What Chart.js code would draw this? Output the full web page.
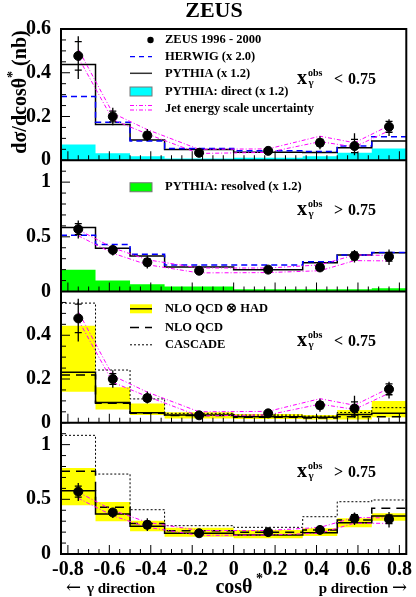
<!DOCTYPE html>
<html>
<head>
<meta charset="utf-8">
<script src="https://cdn.jsdelivr.net/npm/chart.js@4.4.1/dist/chart.umd.min.js"></script>
<style>
  html, body { margin: 0; padding: 0; background: #fff; }
  #wrap { width: 416px; height: 597px; }
</style>
</head>
<body>
<div id="wrap"><canvas id="zeus" width="416" height="597"></canvas></div>
<script>
// cos(theta*) bins: edges for the histograms, centres for the data points
const binEdges = [-0.8333, -0.6667, -0.5, -0.3333, 0, 0.3333, 0.5, 0.6667, 0.8333];
const binCentres = [-0.75, -0.5833, -0.4167, -0.1667, 0.1667, 0.4167, 0.5833, 0.75];

// ZEUS 1996-2000, x_gamma^obs < 0.75 (nb)
const dataLow = [0.477, 0.200, 0.113, 0.034, 0.043, 0.080, 0.065, 0.153];
const statLow = [0.065, 0.025, 0.015, 0.005, 0.006, 0.015, 0.030, 0.025];
const errUpLow = [0.090, 0.040, 0.030, 0.008, 0.010, 0.030, 0.058, 0.035];
const errDnLow = [0.105, 0.040, 0.025, 0.008, 0.010, 0.030, 0.042, 0.042];

// ZEUS 1996-2000, x_gamma^obs > 0.75 (nb)
const dataHigh = [0.570, 0.380, 0.267, 0.190, 0.200, 0.220, 0.325, 0.318];
const statHigh = [0.050, 0.025, 0.030, 0.010, 0.010, 0.020, 0.035, 0.040];
const errUpHigh = [0.080, 0.040, 0.060, 0.015, 0.015, 0.038, 0.055, 0.065];
const errDnHigh = [0.085, 0.050, 0.057, 0.015, 0.015, 0.040, 0.060, 0.075];

// jet energy scale uncertainty
const jesUpLow = [0.508, 0.215, 0.140, 0.050, 0.052, 0.110, 0.080, 0.158];
const jesDnLow = [0.470, 0.185, 0.120, 0.031, 0.036, 0.085, 0.061, 0.135];
const jesUpHigh = [0.565, 0.400, 0.290, 0.215, 0.215, 0.243, 0.334, 0.330];
const jesDnHigh = [0.510, 0.350, 0.245, 0.170, 0.173, 0.190, 0.282, 0.280];

// MC, x_gamma^obs < 0.75
const herwigLow = [0.292, 0.174, 0.088, 0.054, 0.043, 0.040, 0.065, 0.108];
const pythiaLow = [0.438, 0.163, 0.093, 0.049, 0.037, 0.036, 0.057, 0.088];
const directLow = [0.072, 0.032, 0.018, 0.008, 0.012, 0.018, 0.034, 0.054];

// MC, x_gamma^obs > 0.75
const herwigHigh = [0.515, 0.430, 0.340, 0.243, 0.243, 0.273, 0.334, 0.357];
const pythiaHigh = [0.585, 0.395, 0.325, 0.225, 0.200, 0.262, 0.334, 0.355];
const resolvedHigh = [0.200, 0.100, 0.067, 0.045, 0.020, 0.020, 0.020, 0.030];

// NLO and CASCADE, x_gamma^obs < 0.75
const nloHadLow = [0.231, 0.093, 0.046, 0.035, 0.027, 0.025, 0.038, 0.043];
const nloHadLowUp = [0.443, 0.162, 0.088, 0.048, 0.040, 0.035, 0.058, 0.099];
const nloHadLowDn = [0.142, 0.061, 0.035, 0.020, 0.017, 0.015, 0.015, 0.025];
const nloLow = [0.218, 0.089, 0.044, 0.033, 0.025, 0.022, 0.028, 0.028];
const cascadeLow = [0.547, 0.241, 0.109, 0.043, 0.035, 0.030, 0.047, 0.069];

// NLO and CASCADE, x_gamma^obs > 0.75
const nloHadHigh = [0.579, 0.366, 0.253, 0.189, 0.174, 0.195, 0.286, 0.347];
const nloHadHighUp = [0.786, 0.475, 0.304, 0.240, 0.219, 0.235, 0.326, 0.372];
const nloHadHighDn = [0.445, 0.299, 0.207, 0.158, 0.143, 0.165, 0.244, 0.304];
const nloHigh = [0.756, 0.427, 0.280, 0.213, 0.200, 0.220, 0.310, 0.418];
const cascadeHigh = [1.085, 0.731, 0.405, 0.259, 0.244, 0.341, 0.478, 0.494];

const xTicks = [-0.8, -0.6, -0.4, -0.2, 0, 0.2, 0.4, 0.6, 0.8];

const SERIF = '"Liberation Serif", "Times New Roman", serif';
const MAGENTA = '#ff00ff';
const JES_DASH = [4, 2, 1, 2];

const edgeSeries = vals => binEdges.map((x, i) => ({ x, y: vals[Math.min(i, vals.length - 1)] }));
const pointSeries = vals => binCentres.map((x, i) => ({ x, y: vals[i] }));

function histo(axis, vals, color, dash, width, extra) {
  return Object.assign({
    yAxisID: axis, data: edgeSeries(vals), stepped: 'before',
    borderColor: color, borderDash: dash, borderWidth: width,
    pointRadius: 0, fill: false, order: 5
  }, extra || {});
}
function filledHisto(axis, vals, color) {
  return histo(axis, vals, 'rgba(0,0,0,0)', [], 0, { fill: 'origin', backgroundColor: color, order: 30 });
}
function jes(axis, vals) {
  return { yAxisID: axis, data: pointSeries(vals), borderColor: MAGENTA, borderDash: JES_DASH,
    borderWidth: 1, pointRadius: 0, fill: false, tension: 0, order: 3 };
}
function points(axis, vals, stat, up, dn) {
  return { yAxisID: axis, data: pointSeries(vals), showLine: false, pointRadius: 4.5,
    pointBackgroundColor: '#000', pointBorderColor: '#000', order: 1,
    errStat: stat, errUp: up, errDn: dn };
}

const datasets = [
  // panel 1
  filledHisto('y1', directLow, '#00ffff'),
  histo('y1', herwigLow, '#0000ff', [6, 4], 1.5),
  histo('y1', pythiaLow, '#000', [], 1.5),
  jes('y1', jesUpLow), jes('y1', jesDnLow),
  points('y1', dataLow, statLow, errUpLow, errDnLow),
  // panel 2
  filledHisto('y2', resolvedHigh, '#00ff00'),
  histo('y2', herwigHigh, '#0000ff', [6, 4], 1.5),
  histo('y2', pythiaHigh, '#000', [], 1.5),
  jes('y2', jesUpHigh), jes('y2', jesDnHigh),
  points('y2', dataHigh, statHigh, errUpHigh, errDnHigh),
  // panel 3
  histo('y3', nloHadLowUp, 'rgba(0,0,0,0)', [], 0, { fill: '+1', backgroundColor: '#ffff00', order: 30 }),
  histo('y3', nloHadLowDn, 'rgba(0,0,0,0)', [], 0, { order: 30 }),
  histo('y3', nloLow, '#000', [9, 6], 1.5),
  histo('y3', cascadeLow, '#000', [2, 2], 1),
  histo('y3', nloHadLow, '#000', [], 1.5),
  jes('y3', jesUpLow), jes('y3', jesDnLow),
  points('y3', dataLow, statLow, errUpLow, errDnLow),
  // panel 4
  histo('y4', nloHadHighUp, 'rgba(0,0,0,0)', [], 0, { fill: '+1', backgroundColor: '#ffff00', order: 30 }),
  histo('y4', nloHadHighDn, 'rgba(0,0,0,0)', [], 0, { order: 30 }),
  histo('y4', nloHigh, '#000', [9, 6], 1.5),
  histo('y4', cascadeHigh, '#000', [2, 2], 1),
  histo('y4', nloHadHigh, '#000', [], 1.5),
  jes('y4', jesUpHigh), jes('y4', jesDnHigh),
  points('y4', dataHigh, statHigh, errUpHigh, errDnHigh)
];

function yScale(max, step, hideTop) {
  return {
    type: 'linear', position: 'left', stack: 'panels', stackWeight: 1,
    min: 0, max: max,
    minorStep: step / (step === 0.2 ? 4 : 5), majorStep: step,
    ticks: {
      stepSize: step, includeBounds: false, autoSkip: false, padding: 10, color: '#000',
      font: { family: SERIF, size: 20, weight: 'bold' },
      callback: v => (hideTop && v > max - 0.01) ? '' : String(Math.round(v * 10) / 10)
    },
    grid: { display: false, drawTicks: false },
    border: { display: false },
    afterFit: s => { s.width = 61; }
  };
}

// frame, inside tick marks, error bars, legends and labels
const zeusDecor = {
  id: 'zeusDecor',
  afterDatasetsDraw(chart) {
    const ctx = chart.ctx;
    const xs = chart.scales.x;
    ctx.save();
    ctx.strokeStyle = '#000';
    ctx.lineWidth = 1.3;
    chart.data.datasets.forEach(ds => {
      if (!ds.errUp) return;
      const ys = chart.scales[ds.yAxisID];
      binCentres.forEach((c, j) => {
        const px = xs.getPixelForValue(c);
        const v = ds.data[j].y;
        ctx.beginPath();
        ctx.moveTo(px, ys.getPixelForValue(v + ds.errUp[j]));
        ctx.lineTo(px, ys.getPixelForValue(v - ds.errDn[j]));
        [v + ds.errStat[j], v - ds.errStat[j]].forEach(t => {
          const py = ys.getPixelForValue(t);
          ctx.moveTo(px - 3.5, py);
          ctx.lineTo(px + 3.5, py);
        });
        ctx.stroke();
      });
    });
    ctx.restore();
  },
  afterDraw(chart) {
    const ctx = chart.ctx;
    const area = chart.chartArea;
    const xs = chart.scales.x;
    const panels = ['y1', 'y2', 'y3', 'y4'].map(id => chart.scales[id]);
    ctx.save();
    ctx.strokeStyle = '#000';
    ctx.fillStyle = '#000';

    // tick marks pointing into each panel
    ctx.lineWidth = 1;
    ctx.beginPath();
    panels.forEach(ys => {
      const minor = ys.options.minorStep, major = ys.options.majorStep;
      for (let k = 0; k * minor <= ys.max + 1e-6; k++) {
        const v = k * minor;
        const isMajor = Math.abs(v / major - Math.round(v / major)) < 1e-6;
        const py = ys.getPixelForValue(v);
        ctx.moveTo(area.left, py);
        ctx.lineTo(area.left + (isMajor ? 9 : 5), py);
      }
      for (let k = -16; k <= 16; k++) {
        const px = xs.getPixelForValue(k * 0.05);
        ctx.moveTo(px, ys.bottom);
        ctx.lineTo(px, ys.bottom - (k % 4 === 0 ? 9 : 5));
      }
    });
    ctx.stroke();

    // frame and panel separators
    ctx.lineWidth = 2;
    ctx.strokeRect(area.left, area.top, area.right - area.left, area.bottom - area.top);
    ctx.beginPath();
    panels.slice(0, 3).forEach(ys => {
      ctx.moveTo(area.left, ys.bottom);
      ctx.lineTo(area.right, ys.bottom);
    });
    ctx.stroke();

    // title
    ctx.textBaseline = 'alphabetic';
    ctx.textAlign = 'center';
    ctx.font = 'bold 22px ' + SERIF;
    ctx.fillText('ZEUS', 214, 17);

    // x_gamma^obs labels
    const xg = (ys, rel) => {
      const b = ys.top + 54.5;
      ctx.textAlign = 'left';
      ctx.font = 'bold 20px ' + SERIF;
      ctx.fillText('x', 297, b);
      ctx.font = 'bold 10px ' + SERIF;
      ctx.fillText('obs', 308, b - 8);
      ctx.font = 'bold 11px ' + SERIF;
      ctx.fillText('\u03b3', 308.5, b + 2);
      ctx.font = 'bold 16px ' + SERIF;
      ctx.fillText(rel, 334, b);
      ctx.fillText('0.75', 348, b);
    };
    xg(panels[0], '<');
    xg(panels[1], '>');
    xg(panels[2], '<');
    xg(panels[3], '>');

    // legends
    const lx0 = 130, lx1 = 152, tx = 165;
    const label = (txt, y) => {
      ctx.fillStyle = '#000';
      ctx.textAlign = 'left';
      ctx.textBaseline = 'middle';
      ctx.font = 'bold 12.5px ' + SERIF;
      ctx.fillText(txt, tx, y);
    };
    const sampleLine = (y, color, dash, w) => {
      ctx.save();
      ctx.strokeStyle = color;
      ctx.setLineDash(dash);
      ctx.lineWidth = w;
      ctx.beginPath();
      ctx.moveTo(lx0, y);
      ctx.lineTo(lx1, y);
      ctx.stroke();
      ctx.restore();
    };
    const sampleBox = (y, color, edge) => {
      ctx.fillStyle = color;
      ctx.fillRect(lx0, y - 4.5, lx1 - lx0, 9);
      if (edge) {
        ctx.strokeStyle = '#777';
        ctx.lineWidth = 1;
        ctx.strokeRect(lx0, y - 4.5, lx1 - lx0, 9);
      }
    };
    let t = panels[0].top;
    ctx.beginPath();
    ctx.arc(150.5, t + 11, 3.2, 0, Math.PI * 2);
    ctx.fill();
    label('ZEUS 1996 - 2000', t + 11);
    sampleLine(t + 27.7, '#0000ff', [5, 4], 1.3);
    label('HERWIG (x 2.0)', t + 27.7);
    sampleLine(t + 44.3, '#333', [], 1.5);
    label('PYTHIA (x 1.2)', t + 44.3);
    sampleBox(t + 62.5, '#00ffff', true);
    label('PYTHIA: direct (x 1.2)', t + 62.5);
    sampleLine(t + 76.5, MAGENTA, JES_DASH, 1);
    sampleLine(t + 81, MAGENTA, JES_DASH, 1);
    label('Jet energy scale uncertainty', t + 79.3);

    t = panels[1].top;
    sampleBox(t + 27, '#00ff00', true);
    label('PYTHIA: resolved (x 1.2)', t + 27);

    t = panels[2].top;
    sampleBox(t + 17.3, '#ffff00', false);
    sampleLine(t + 17.3, '#000', [], 1.5);
    label('NLO QCD \u2297 HAD', t + 17.3);
    sampleLine(t + 36, '#000', [9, 6], 1.5);
    label('NLO QCD', t + 36);
    sampleLine(t + 53.3, '#000', [2, 2], 1);
    label('CASCADE', t + 53.3);

    // axis titles
    ctx.fillStyle = '#000';
    ctx.textBaseline = 'alphabetic';
    ctx.textAlign = 'left';
    ctx.font = 'bold 20px ' + SERIF;
    const w1 = ctx.measureText('d\u03c3/dcos\u03b8').width;
    const w3 = ctx.measureText(' (nb)').width;
    ctx.font = 'bold 14px ' + SERIF;
    const w2 = ctx.measureText('*').width;
    ctx.save();
    ctx.translate(26, 92);
    ctx.rotate(-Math.PI / 2);
    const sx = -(w1 + w2 + w3) / 2;
    ctx.font = 'bold 20px ' + SERIF;
    ctx.fillText('d\u03c3/dcos\u03b8', sx, 0);
    ctx.font = 'bold 14px ' + SERIF;
    ctx.fillText('*', sx + w1, -9);
    ctx.font = 'bold 20px ' + SERIF;
    ctx.fillText(' (nb)', sx + w1 + w2, 0);
    ctx.restore();

    ctx.font = 'bold 20px ' + SERIF;
    ctx.textAlign = 'center';
    ctx.fillText('cos\u03b8', 234, 593);
    ctx.font = 'bold 14px ' + SERIF;
    ctx.textAlign = 'left';
    ctx.fillText('*', 256, 583);

    // direction hints, with wide arrows
    ctx.font = '18px "DejaVu Serif"';
    ctx.fillText('\u2190', 66, 593);
    ctx.textAlign = 'right';
    ctx.fillText('\u2192', 407, 593);
    ctx.font = 'bold 15px ' + SERIF;
    ctx.textAlign = 'left';
    ctx.fillText('\u03b3 direction', 87, 593);
    ctx.textAlign = 'right';
    ctx.fillText('p direction', 388, 593);
    ctx.restore();
  }
};

new Chart(document.getElementById('zeus'), {
  type: 'line',
  data: { datasets },
  options: {
    responsive: false,
    animation: false,
    devicePixelRatio: 1,
    layout: { padding: { top: 29, right: 5, left: 0, bottom: 0 } },
    plugins: { legend: { display: false }, tooltip: { enabled: false }, title: { display: false } },
    scales: {
      x: {
        type: 'linear', min: binEdges[0], max: binEdges[binEdges.length - 1],
        afterBuildTicks: s => { s.ticks = xTicks.map(v => ({ value: v })); },
        ticks: { autoSkip: false, maxRotation: 0, padding: 4, color: '#000',
          font: { family: SERIF, size: 20, weight: 'bold' },
          callback: v => String(Math.round(v * 10) / 10) },
        grid: { display: false, drawTicks: false },
        border: { display: false },
        afterFit: s => { s.height = 43; }
      },
      y4: yScale(1.2, 0.5, false),
      y3: yScale(0.6, 0.2, true),
      y2: yScale(1.2, 0.5, false),
      y1: yScale(0.6, 0.2, false)
    }
  },
  plugins: [zeusDecor]
});
</script>
</body>
</html>
